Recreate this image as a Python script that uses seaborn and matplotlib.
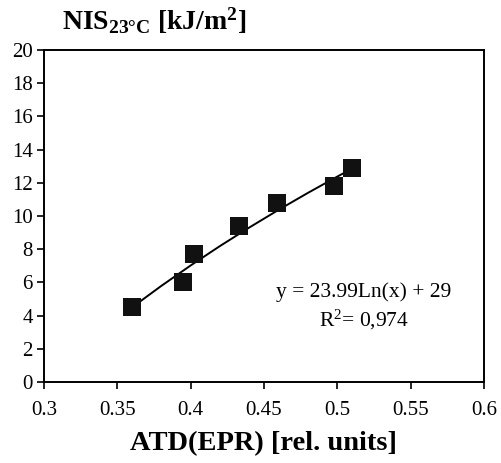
import numpy as np
import pandas as pd
import matplotlib
matplotlib.use("Agg")
import matplotlib.pyplot as plt
import seaborn as sns

# Data
atd = [0.360, 0.395, 0.402, 0.433, 0.459, 0.498, 0.510]
nis = [4.5, 6.0, 7.7, 9.4, 10.8, 11.8, 12.9]
fit_a = 23.99
fit_b = 29.0
fit_x = [0.360, 0.380, 0.400, 0.420, 0.440, 0.460, 0.480, 0.500, 0.510]
x_ticks = [0.3, 0.35, 0.4, 0.45, 0.5, 0.55, 0.6]
x_tick_labels = ["0.3", "0.35", "0.4", "0.45", "0.5", "0.55", "0.6"]
y_ticks = [0, 2, 4, 6, 8, 10, 12, 14, 16, 18, 20]

sns.set_theme(style="white")
plt.rcParams['font.family'] = ['Liberation Serif', 'DejaVu Serif']
plt.rcParams['text.color'] = 'black'
plt.rcParams['axes.labelcolor'] = 'black'
plt.rcParams['mathtext.fontset'] = 'custom'
plt.rcParams['mathtext.rm'] = 'Liberation Serif'
plt.rcParams['mathtext.bf'] = 'Liberation Serif:bold'
plt.rcParams['mathtext.it'] = 'Liberation Serif:italic'

fig = plt.figure(figsize=(5.01, 4.63), dpi=100)
ax = fig.add_axes([0.0878, 0.175, 0.878, 0.717])

df = pd.DataFrame({"x": atd, "y": nis})
fx = np.array(fit_x)
fdf = pd.DataFrame({"x": fx, "y": fit_a * np.log(fx) + fit_b})

sns.lineplot(data=fdf, x="x", y="y", ax=ax, color="black", linewidth=1.4)
sns.scatterplot(data=df, x="x", y="y", ax=ax, marker="s", s=150,
                color="#111111", edgecolor="#111111", linewidth=0, zorder=3)

ax.set_xlim(0.3, 0.6)
ax.set_ylim(0, 20)
ax.set_xticks(x_ticks)
ax.set_xticklabels(x_tick_labels)
ax.set_yticks(y_ticks)
ax.tick_params(axis="both", direction="out", length=5, width=1.2,
               labelsize=15, colors="black", labelcolor="black", pad=3,
               bottom=True, left=True, top=False, right=False)
ax.tick_params(axis="x", pad=9)
for sp in ax.spines.values():
    sp.set_visible(True)
    sp.set_color("black")
    sp.set_linewidth(1.4)

ax.set_xlabel("ATD(EPR) [rel. units]", fontsize=20.5, fontweight="bold",
              labelpad=8, color="black")
ax.set_ylabel("")

fig.text(0.123, 0.922, r"NIS$_{\mathbf{23°C}}$ [kJ/m$^{\mathbf{2}}$]",
         fontsize=20, fontweight="bold", ha="left", va="bottom", color="black")

ax.text(0.518, 5.42, "y = 23.99Ln(x) + 29", fontsize=15.5, ha="center",
        va="center", color="black")
ax.text(0.518, 3.73, "R$^2$= 0,974", fontsize=15.5, ha="center",
        va="center", color="black")

fig.savefig("out.png", dpi=100)
